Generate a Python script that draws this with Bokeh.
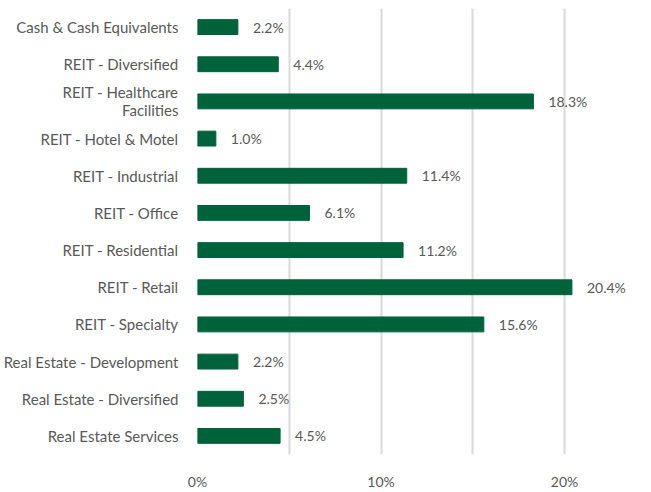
from bokeh.plotting import figure
from bokeh.models import ColumnDataSource, FactorRange, FixedTicker, Range1d
from bokeh.core.properties import value
from bokeh.embed import file_html
from bokeh.resources import INLINE

categories = [
    "Cash & Cash Equivalents",
    "REIT - Diversified",
    "REIT - Healthcare\nFacilities",
    "REIT - Hotel & Motel",
    "REIT - Industrial",
    "REIT - Office",
    "REIT - Residential",
    "REIT - Retail",
    "REIT - Specialty",
    "Real Estate - Development",
    "Real Estate - Diversified",
    "Real Estate Services",
]
weights = [2.2, 4.4, 18.3, 1.0, 11.4, 6.1, 11.2, 20.4, 15.6, 2.2, 2.5, 4.5]
tick_values = [0, 10, 20]
tick_labels = ["0%", "10%", "20%"]
grid_values = [0, 5, 10, 15, 20]

FONT = "Lato"
GRAY = "#595959"
GREEN = "#00623A"

source = ColumnDataSource(dict(
    cat=categories,
    w=weights,
    lbl=[f"{v:.1f}%" for v in weights],
))

p = figure(
    width=643, height=492,
    y_range=FactorRange(factors=list(reversed(categories))),
    x_range=Range1d(0, 24.3),
    output_backend="svg", toolbar_location=None,
    min_border_left=196, min_border_right=0, min_border_top=8, min_border_bottom=30,
)
p.outline_line_color = None
p.background_fill_color = "white"

p.hbar(y="cat", right="w", left=0, height=0.4, color=GREEN, source=source)
p.text(x="w", y="cat", text="lbl", source=source, x_offset=15,
       text_align="left", text_baseline="middle",
       text_font=value(FONT), text_font_size="14px", text_color=GRAY)

p.ygrid.grid_line_color = None
p.xgrid.ticker = FixedTicker(ticks=grid_values)
p.xgrid.grid_line_color = "#d9d9d9"
p.xgrid.grid_line_width = 2

p.xaxis.ticker = FixedTicker(ticks=tick_values)
p.xaxis.major_label_overrides = dict(zip(tick_values, tick_labels))
p.xaxis.axis_line_color = None
p.xaxis.major_tick_line_color = None
p.xaxis.minor_tick_line_color = None
p.xaxis.major_label_text_font = FONT
p.xaxis.major_label_text_font_size = "14px"
p.xaxis.major_label_text_color = GRAY
p.xaxis.major_label_standoff = 12

p.yaxis.axis_line_color = None
p.yaxis.major_tick_line_color = None
p.yaxis.minor_tick_line_color = None
p.yaxis.major_label_text_font = FONT
p.yaxis.major_label_text_font_size = "15px"
p.yaxis.major_label_text_color = GRAY
p.yaxis.major_label_text_line_height = 1.0
p.yaxis.major_label_standoff = 13

open("out.html", "w").write(file_html(p, INLINE))
